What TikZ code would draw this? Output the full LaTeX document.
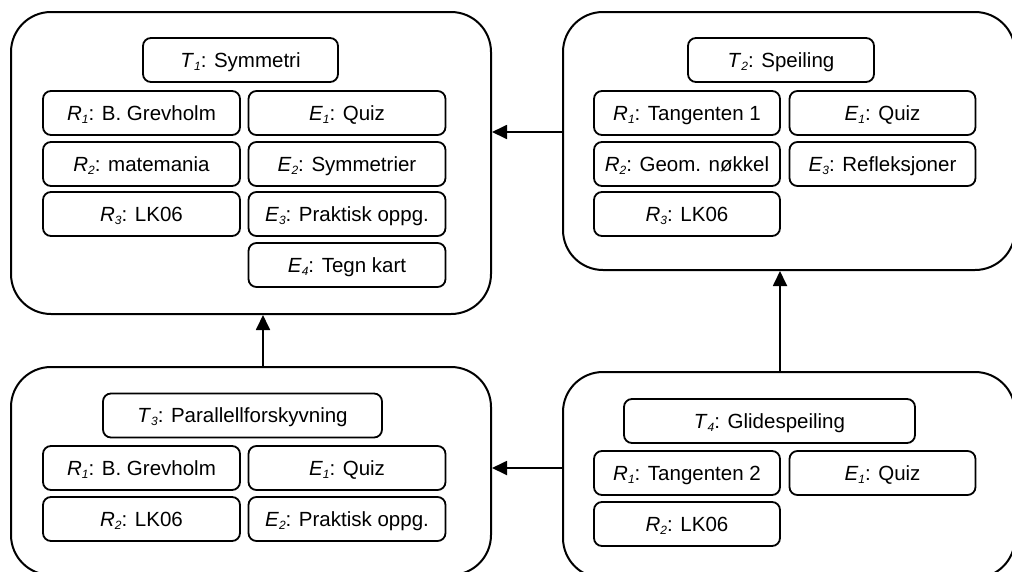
\documentclass[tikz,border=0pt]{standalone}
\usepackage{fontspec}
\setmainfont{Liberation Sans}
\usetikzlibrary{arrows.meta,positioning}

\newcommand{\lbl}[3]{\textit{#1}\raisebox{-3pt}{\fontsize{12}{12}\selectfont\textit{#2}}: #3}

\begin{document}
\begin{tikzpicture}[
    x=1pt, y=-1pt,
    font=\fontsize{20.5}{24}\selectfont,
    group/.style={draw, line width=2pt, rounded corners=40pt, inner sep=0pt},
    item/.style={draw, line width=1.8pt, rounded corners=8pt, inner sep=0pt, minimum height=44pt, text height=14.5pt, text depth=0pt, align=center},
    ritem/.style={item, minimum width=197pt},
    sitem/.style={item, minimum width=186pt},
    arr/.style={-{Triangle[length=15pt, width=14pt]}, line width=1.8pt}
]
\fill[white] (0,0) rectangle (1012,571);
\clip (0,0) rectangle (1012,571);

% outer groups
\node[group, minimum width=480pt, minimum height=302pt] (g1) at (251,163) {};
\node[group, minimum width=452pt, minimum height=258pt] (g2) at (789,141) {};
\node[group, minimum width=480pt, minimum height=208pt] (g3) at (251,471) {};
\node[group, minimum width=452pt, minimum height=206pt] (g4) at (789,475) {};

% T1
\node[item, minimum width=195pt] (t1) at (240.5,60) {\lbl{T}{1}{Symmetri}};
\node[ritem] (t1r1) at (141.5,113) {\lbl{R}{1}{B. Grevholm}};
\node[ritem] (t1r2) at (141.5,164) {\lbl{R}{2}{matemania}};
\node[ritem] (t1r3) at (141.5,214) {\lbl{R}{3}{LK06}};
\node[ritem] (t1e1) at (347,113) {\lbl{E}{1}{Quiz}};
\node[ritem] (t1e2) at (347,164) {\lbl{E}{2}{Symmetrier}};
\node[ritem] (t1e3) at (347,214) {\lbl{E}{3}{Praktisk oppg.}};
\node[ritem] (t1e4) at (347,265) {\lbl{E}{4}{Tegn kart}};

% T2
\node[sitem] (t2) at (781,60) {\lbl{T}{2}{Speiling}};
\node[sitem] (t2r1) at (687,113) {\lbl{R}{1}{Tangenten 1}};
\node[sitem] (t2r2) at (687,164) {\lbl{R}{2}{Geom. nøkkel}};
\node[sitem] (t2r3) at (687,214) {\lbl{R}{3}{LK06}};
\node[sitem] (t2e1) at (882.5,113) {\lbl{E}{1}{Quiz}};
\node[sitem] (t2e3) at (882.5,164) {\lbl{E}{3}{Refleksjoner}};

% T3
\node[item, minimum width=279pt] (t3) at (242.5,415.5) {\lbl{T}{3}{Parallellforskyvning}};
\node[ritem] (t3r1) at (141.5,468) {\lbl{R}{1}{B. Grevholm}};
\node[ritem] (t3r2) at (141.5,519) {\lbl{R}{2}{LK06}};
\node[ritem] (t3e1) at (347,468) {\lbl{E}{1}{Quiz}};
\node[ritem] (t3e2) at (347,519) {\lbl{E}{2}{Praktisk oppg.}};

% T4
\node[item, minimum width=291pt] (t4) at (769.5,421) {\lbl{T}{4}{Glidespeiling}};
\node[sitem] (t4r1) at (687,473) {\lbl{R}{1}{Tangenten 2}};
\node[sitem] (t4r2) at (687,524) {\lbl{R}{2}{LK06}};
\node[sitem] (t4e1) at (882.5,473) {\lbl{E}{1}{Quiz}};

% connectors
\draw[arr] ([yshift=9pt]g2.west) -- ([yshift=9pt]g2.west -| g1.east);
\draw[arr] ([yshift=7pt]g4.west) -- ([yshift=7pt]g4.west -| g3.east);
\draw[arr] ([xshift=12pt]g3.north) -- ([xshift=12pt]g3.north |- g1.south);
\draw[arr] ([xshift=-9pt]g4.north) -- ([xshift=-9pt]g4.north |- g2.south);
\end{tikzpicture}
\end{document}
